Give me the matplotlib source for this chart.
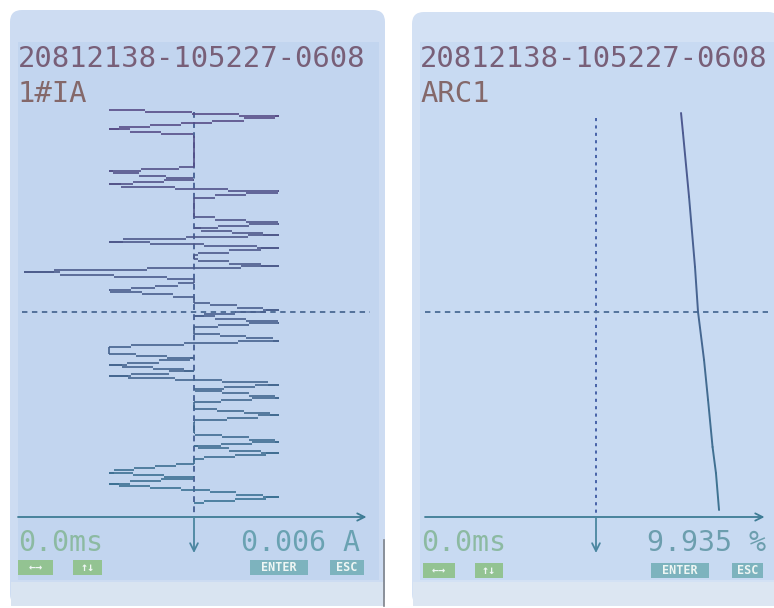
import matplotlib.pyplot as plt
from matplotlib.patches import FancyBboxPatch, Rectangle
from matplotlib.colors import LinearSegmentedColormap
import numpy as np

# recorded waveform, channel 1#IA (time in ms, current in A)
t_ia = [-10.15, -9.75, -9.15, -8.85, -7.25, -7.0, -6.65, -6.35, -6.0, -5.7,
        -4.75, -4.45, -4.15, -3.85, -3.55, -3.2, -2.9, -2.6, -2.3, -2.0,
        -1.65, -1.45, -1.05, -0.75, -0.45, -0.1, 0.2, 0.5, 0.8, 1.05,
        1.4, 1.75, 2.05, 2.35, 2.65, 2.95, 3.2, 3.6, 3.9, 4.25,
        4.55, 4.8, 5.15, 5.45, 6.1, 6.45, 6.75, 7.05, 7.35, 7.55,
        8.0, 8.3, 8.6, 8.9, 9.25, 9.55]
ia = [-0.010, 0.010, -0.010, 0.0, 0.0, -0.010, 0.0, -0.010, 0.010, 0.0,
      0.0, 0.010, 0.0, 0.010, -0.010, 0.010, 0.0, 0.0, 0.010, -0.020,
      0.0, 0.0, -0.010, 0.0, 0.0, 0.010, 0.0, 0.010, 0.0, 0.0,
      0.010, -0.010, -0.010, 0.0, -0.010, 0.0, -0.010, 0.010, 0.0, 0.010,
      0.0, 0.0, 0.010, 0.0, 0.0, 0.010, 0.0, 0.010, 0.0, 0.0,
      -0.010, 0.0, -0.010, 0.0, 0.010, 0.0]

# recorded waveform, channel ARC1 (time in ms, value in %)
t_arc = [-9.95, -8.95, -5.75, -2.25, 0.0, 2.4, 4.4, 6.75, 8.05, 9.9]
arc = [8.28, 8.47, 9.06, 9.64, 9.935, 10.52, 10.91, 11.35, 11.68, 11.98]

header = "20812138-105227-0608"
ch_left, ch_right = "1#IA", "ARC1"
time_read = "0.0ms"
val_left, val_right = "0.006 A", "9.935 %"
buttons = ["\u2190\u2192", "\u2191\u2193", "ENTER", "ESC"]

W, H = 774, 608
PX_PER_MS = 20.0
T0_PX = 312          # row of the time cursor
ROW_MS = 0.11        # one LCD pixel row
MONO = "DejaVu Sans Mono"

fig = plt.figure(figsize=(W / 100, H / 100), dpi=100)
fig.patch.set_facecolor("white")
bg = fig.add_axes([0, 0, 1, 1])
bg.set_xlim(0, W)
bg.set_ylim(H, 0)
bg.axis("off")


def screen(x0, x1, y0, y1, outer, inner, low):
    bg.add_patch(FancyBboxPatch((x0, y0), x1 - x0, y1 - y0,
                                boxstyle="round,pad=0,rounding_size=12",
                                fc=outer, ec="none"))
    bg.add_patch(Rectangle((x0 + 8, 42), x1 - x0 - 14, 538, fc=inner, ec="none"))
    bg.add_patch(Rectangle((x0 + 1, 582), x1 - x0 - 2, y1 - 582, fc=low, ec="none"))


screen(10, 385, 10, 606, "#cddcf2", "#c2d5ef", "#d9e4f1")
screen(412, 780, 12, 606, "#d3e1f4", "#c8daf2", "#dce6f2")
bg.plot([384, 384], [540, 606], color="#7d828a", lw=1.2)


def data_axes(px_l, px_r, px_t, px_b, x0_px, px_per_unit):
    ax = fig.add_axes([px_l / W, 1 - px_b / H, (px_r - px_l) / W, (px_b - px_t) / H])
    ax.set_xlim((px_l - x0_px) / px_per_unit, (px_r - x0_px) / px_per_unit)
    ax.set_ylim((px_b - T0_PX) / PX_PER_MS, (px_t - T0_PX) / PX_PER_MS)
    ax.axis("off")
    return ax


def draw_lcd_trace(ax, x, t, c_top, c_bot, lw=1.2):
    # draw the polyline the way the LCD does: one horizontal run per pixel row
    cmap = LinearSegmentedColormap.from_list("lcd", [c_top, c_bot])
    tmin, tmax = min(t), max(t)
    rows, xa, xb, vx, vt0, vt1 = [], [], [], [], [], []
    for x0, t0, x1, t1 in zip(x[:-1], t[:-1], x[1:], t[1:]):
        k0, k1 = round(t0 / ROW_MS), round(t1 / ROW_MS)
        if x0 == x1:
            vx.append(x0)
            vt0.append(k0 * ROW_MS)
            vt1.append(k1 * ROW_MS)
            continue
        if k0 == k1:
            rows.append(k0 * ROW_MS)
            xa.append(x0)
            xb.append(x1)
            continue
        for k in range(k0, k1 + 1):
            ta = max(t0, (k - 0.5) * ROW_MS)
            tb = min(t1, (k + 0.5) * ROW_MS)
            if tb < ta:
                continue
            rows.append(k * ROW_MS)
            xa.append(x0 + (x1 - x0) * (ta - t0) / (t1 - t0))
            xb.append(x0 + (x1 - x0) * (tb - t0) / (t1 - t0))
    rows = np.array(rows)
    ax.hlines(rows, xa, xb, colors=cmap((rows - tmin) / (tmax - tmin)), lw=lw)
    vmid = (np.array(vt0) + np.array(vt1)) / 2
    ax.vlines(vx, vt0, vt1, colors=cmap((vmid - tmin) / (tmax - tmin)), lw=lw)


def draw_trace(ax, x, t, c_top, c_bot, lw=1.4):
    cmap = LinearSegmentedColormap.from_list("lcd", [c_top, c_bot])
    for x0, t0, x1, t1 in zip(x[:-1], t[:-1], x[1:], t[1:]):
        c = cmap(((t0 + t1) / 2 - min(t)) / (max(t) - min(t)))
        ax.plot([x0, x1], [t0, t1], color=c, lw=lw, solid_capstyle="round")


def axes_deco(ax, t_top, xmin, xmax, vcol, hcol, vstyle):
    y_lo = ax.get_ylim()[0]
    ax.plot([0, 0], [t_top, y_lo], color=vcol, lw=1.4, ls=vstyle)
    ax.axhline(0, xmin=xmin, xmax=xmax, color=hcol, lw=1.3, ls=(0, (3, 2.5)))
    # time axis arrow along the bottom
    ax.annotate("", xy=(xmax - 0.01, 0), xytext=(0, 0), xycoords="axes fraction",
                arrowprops=dict(arrowstyle="->", color="#3e7c95", lw=1.3,
                                shrinkA=0, shrinkB=0, mutation_scale=13))
    # cursor arrow below the axis
    ax.annotate("", xy=(0, y_lo + 36 / PX_PER_MS), xytext=(0, y_lo), xycoords="data",
                annotation_clip=False,
                arrowprops=dict(arrowstyle="->", color="#4a86a0", lw=1.3,
                                shrinkA=0, shrinkB=0, mutation_scale=14))


axL = data_axes(18, 378, 100, 517, 194, 8500.0)
axes_deco(axL, -10.0, 0.011, 0.978, "#4d6799", "#4a6994", (0, (3, 2.2)))
draw_lcd_trace(axL, ia, t_ia, "#574a86", "#3a7293")

axR = data_axes(425, 770, 100, 517, 596, 10.27)
axes_deco(axR, -9.7, 0.0, 0.994, "#4762a8", "#4a6c96", (0, (1.6, 2.2)))
draw_trace(axR, arc, t_arc, "#4e5790", "#3e7492")

# header and channel labels
for x0 in (18, 420):
    bg.text(x0, 67, header, fontfamily=MONO, fontsize=20.8, color="#785f78", va="baseline")
bg.text(18, 102, ch_left, fontfamily=MONO, fontsize=20.8, color="#84686a", va="baseline")
bg.text(420, 102, ch_right, fontfamily=MONO, fontsize=20.8, color="#84686a", va="baseline")

# readouts
bg.text(18, 551, time_read, fontfamily=MONO, fontsize=20.3, color="#8cbaa2", va="baseline")
bg.text(421, 551, time_read, fontfamily=MONO, fontsize=20.3, color="#8cbaa2", va="baseline")
bg.text(360, 551, val_left, fontfamily=MONO, fontsize=20.3, color="#6aa2b2",
        va="baseline", ha="right")
bg.text(766, 551, val_right, fontfamily=MONO, fontsize=20.3, color="#6c9eae",
        va="baseline", ha="right")

# soft keys
key_boxes = [
    [(18, 53), (73, 102), (250, 308), (330, 364)],
    [(423, 455), (475, 503), (651, 709), (732, 763)],
]
key_cols = ["#93c392", "#93c392", "#7db3be", "#7db3be"]
for row, ytop in zip(key_boxes, (560, 563)):
    for (x0, x1), lab, c in zip(row, buttons, key_cols):
        bg.add_patch(Rectangle((x0, ytop), x1 - x0, 15, fc=c, ec="none"))
        bg.text((x0 + x1) / 2, ytop + 7.8, lab, fontfamily=MONO, fontsize=8.5,
                fontweight="bold", color="#eef6f4", ha="center", va="center")

fig.savefig("out.png", dpi=100, facecolor="white")
